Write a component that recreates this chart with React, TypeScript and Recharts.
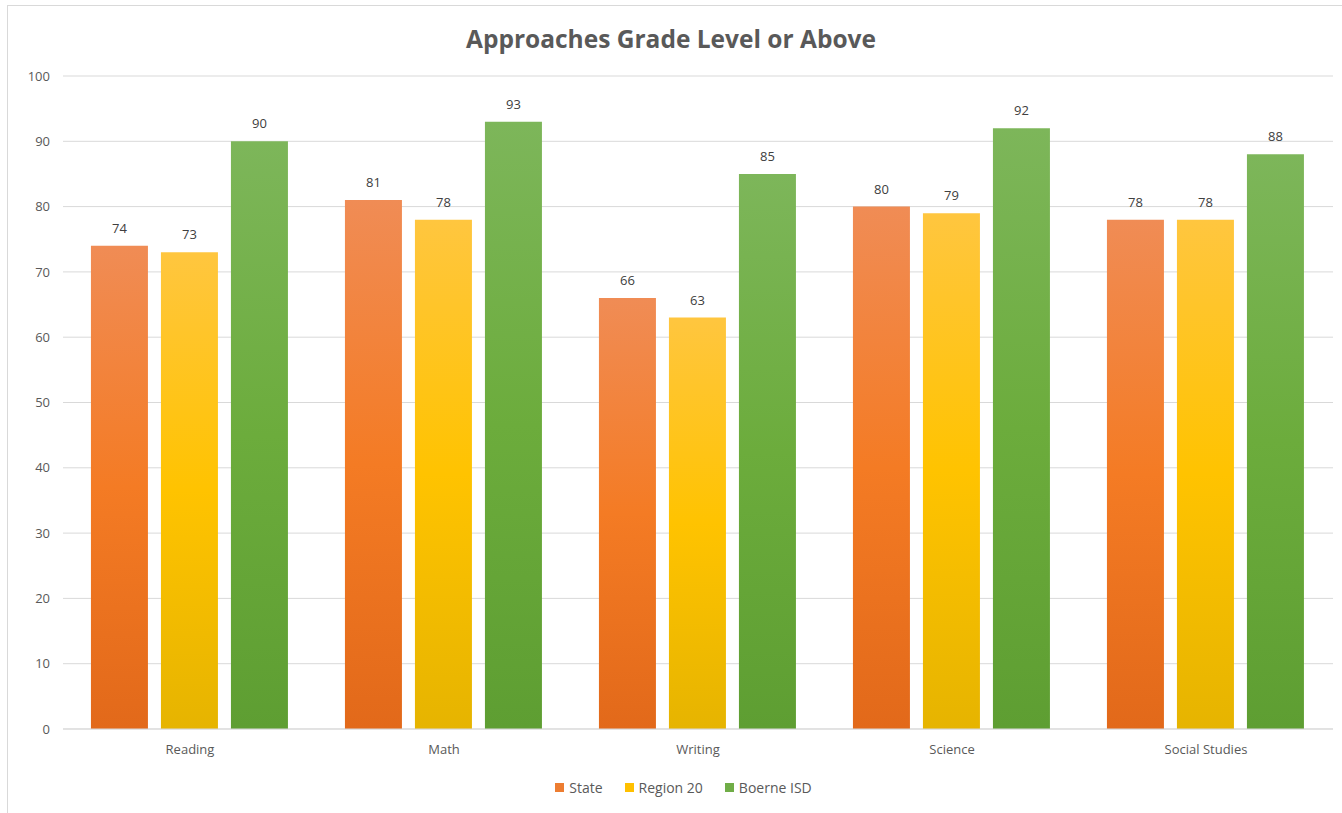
import React from 'react';
import { BarChart, Bar, XAxis, YAxis, CartesianGrid, Legend, LabelList } from 'recharts';

const categories = ['Reading', 'Math', 'Writing', 'Science', 'Social Studies'];
const stateValues = [74, 81, 66, 80, 78];
const region20Values = [73, 78, 63, 79, 78];
const boerneValues = [90, 93, 85, 92, 88];
const yTicks = [0, 10, 20, 30, 40, 50, 60, 70, 80, 90, 100];

const seriesList = [
    { key: 'state', name: 'State', swatch: '#ED7D31', fill: 'url(#gState)' },
    { key: 'region', name: 'Region 20', swatch: '#FFC000', fill: 'url(#gRegion)' },
    { key: 'boerne', name: 'Boerne ISD', swatch: '#70AD47', fill: 'url(#gBoerne)' }
];

const data = categories.map((name, i) => ({
    name,
    state: stateValues[i],
    region: region20Values[i],
    boerne: boerneValues[i]
}));

const font = '"Open Sans", "Noto Sans", sans-serif';

const LegendContent = () => (
    <div style={{ display: 'flex', justifyContent: 'center', gap: 22, fontSize: 14, color: '#595959', fontFamily: font, height: 19, alignItems: 'center', paddingLeft: 34 }}>
        {seriesList.map(s => (
            <span key={s.key} style={{ display: 'flex', alignItems: 'center', gap: 5 }}>
                <span style={{ width: 9, height: 9, background: s.swatch, display: 'inline-block' }} />
                {s.name}
            </span>
        ))}
    </div>
);

const App: React.FC = () => {
    return (
        <div style={{ position: 'absolute', left: 0, top: 0, width: 1342, height: 813, overflow: 'hidden', background: '#fff', fontFamily: font }}>
            <div style={{ position: 'absolute', left: 7, top: 5, width: 1400, height: 900, borderLeft: '1px solid #d9d9d9', borderTop: '1px solid #d9d9d9' }} />
            <div style={{ position: 'absolute', left: 0, top: 22, width: 1342, textAlign: 'center', fontSize: 24.5, fontWeight: 700, color: '#595959' }}>
                Approaches Grade Level or Above
            </div>
            <div style={{ position: 'absolute', left: 0, top: 0 }}>
                <BarChart
                    width={1342}
                    height={813}
                    data={data}
                    margin={{ top: 76, right: 9, bottom: 35, left: 0 }}
                    barCategoryGap="11%"
                    barGap={13}
                >
                    <defs>
                        <linearGradient id="gState" x1="0" y1="0" x2="0" y2="1">
                            <stop offset="0%" stopColor="#F08C55" />
                            <stop offset="50%" stopColor="#F47B24" />
                            <stop offset="100%" stopColor="#E2691A" />
                        </linearGradient>
                        <linearGradient id="gRegion" x1="0" y1="0" x2="0" y2="1">
                            <stop offset="0%" stopColor="#FFC63F" />
                            <stop offset="50%" stopColor="#FFC300" />
                            <stop offset="100%" stopColor="#E6B400" />
                        </linearGradient>
                        <linearGradient id="gBoerne" x1="0" y1="0" x2="0" y2="1">
                            <stop offset="0%" stopColor="#7DB65A" />
                            <stop offset="50%" stopColor="#6CAC3C" />
                            <stop offset="100%" stopColor="#5E9E32" />
                        </linearGradient>
                    </defs>
                    <CartesianGrid vertical={false} stroke="#d9d9d9" />
                    <XAxis
                        dataKey="name"
                        tickLine={false}
                        axisLine={{ stroke: '#d9d9d9' }}
                        tick={{ fill: '#595959', fontSize: 13, fontFamily: font }}
                        tickMargin={10}
                        height={30}
                    />
                    <YAxis
                        domain={[0, 100]}
                        ticks={yTicks}
                        width={63}
                        tickLine={false}
                        axisLine={false}
                        tick={{ fill: '#595959', fontSize: 13, fontFamily: font }}
                        tickMargin={7}
                    />
                    <Legend
                        verticalAlign="bottom"
                        content={<LegendContent />}
                        wrapperStyle={{ bottom: 16 }}
                    />
                    {seriesList.map(s => (
                        <Bar key={s.key} dataKey={s.key} name={s.name} fill={s.fill} isAnimationActive={false}>
                            <LabelList dataKey={s.key} position="top" offset={13} fill="#404040" fontSize={13} fontFamily={font} />
                        </Bar>
                    ))}
                </BarChart>
            </div>
        </div>
    );
};

export default App;
